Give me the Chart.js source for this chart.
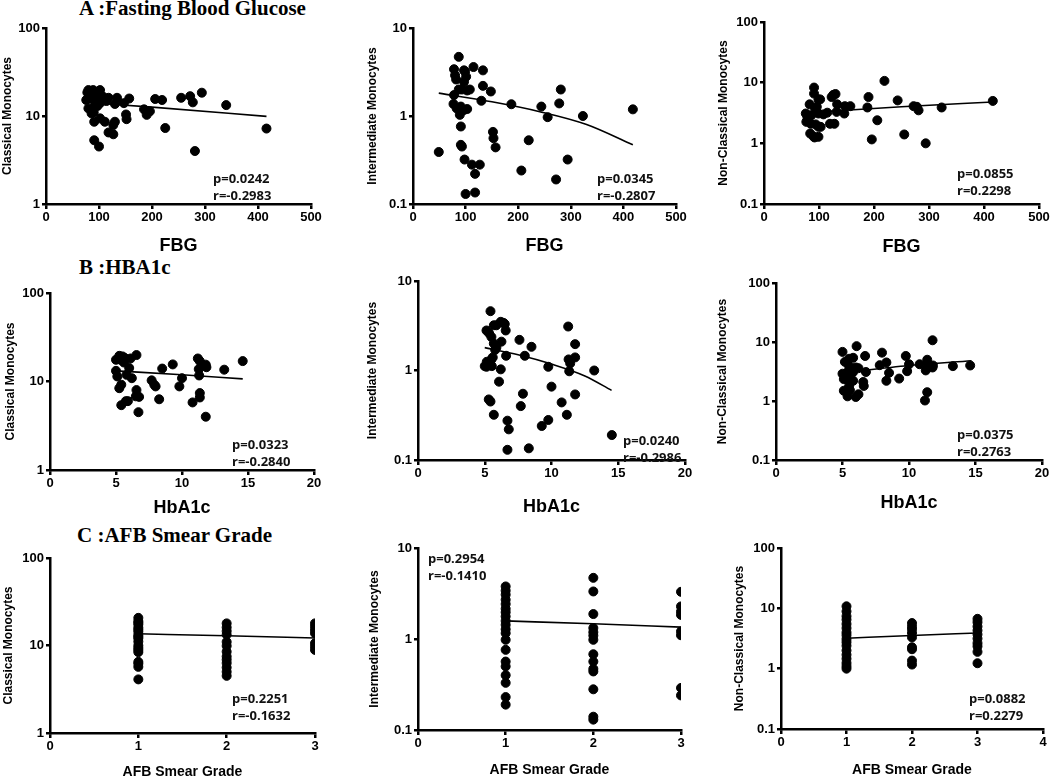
<!DOCTYPE html>
<html>
<head>
<meta charset="utf-8">
<script src="https://cdn.jsdelivr.net/npm/chart.js@4.4.1/dist/chart.umd.min.js"></script>
<style>
  html, body { margin: 0; padding: 0; background: #fff; overflow: hidden; }
  body { width: 1050px; height: 778px; position: relative; }
  canvas { position: absolute; }
  .section { position: absolute; font: bold 21px 'Liberation Serif', 'Times New Roman', serif; line-height: 20px; white-space: nowrap; color: #000; }
  .stat { position: absolute; font: bold 13px 'Open Sans', sans-serif; line-height: 17px; white-space: nowrap; color: #111; }
</style>
</head>
<body>
<div class="section" style="left:79px; top:-2px;">A :Fasting Blood Glucose</div>
<div class="section" style="left:79px; top:257px;">B :HBA1c</div>
<div class="section" style="left:77px; top:525px;">C :AFB Smear Grade</div>
<script>
// axis ticks
const fbgTicks = [0, 100, 200, 300, 400, 500];
const hba1cTicks = [0, 5, 10, 15, 20];
const gradeTicks3 = [0, 1, 2, 3];
const gradeTicks4 = [0, 1, 2, 3, 4];
const logTicks1to100 = [1, 10, 100];
const logTicks01to10 = [0.1, 1, 10];
const logTicks01to100 = [0.1, 1, 10, 100];

// A : FBG vs monocyte subsets  [x, y]
const fbgClassical = [[76,15.2],[80,19.7],[83,17.3],[89,19.7],[96,18.9],[102,19.7],[93,15.2],[99,16.6],[80,12.2],[86,10.7],[93,13.6],[102,14],[102,9.4],[91,8.6],[111,8.6],[91,5.3],[100,4.5],[118,16.1],[114,14.8],[134,16.1],[130,13.7],[147,14],[157,15.8],[130,8.6],[127,7.9],[118,6.5],[127,6.2],[151,10.4],[152,9.2],[185,11.9],[190,10.3],[196,11.3],[206,15.6],[219,15.2],[225,7.3],[255,16.1],[272,16.8],[277,14.3],[294,18.4],[281,4.0],[340,13.3],[416,7.2],[108,16.5],[83,16.1],[102,17.3],[86,19],[95,17.5],[78,18.5],[97,13],[90,11]];
const fbgClassicalFit = [[76,14.3],[200,12.6],[416,9.9]];

const fbgIntermediate = [[49,0.39],[87,4.7],[78,3.4],[80,2.9],[82,2.6],[97,3.3],[99,3.2],[101,2.8],[115,3.6],[133,3.3],[133,2.2],[97,2.45],[87,2.0],[93,2.0],[103,1.95],[108,2.0],[148,1.9],[78,1.73],[77,1.37],[83,1.22],[91,1.28],[97,1.17],[103,1.2],[89,1.03],[130,1.49],[187,1.36],[244,1.28],[256,0.97],[278,1.39],[281,2.0],[323,1.0],[418,1.19],[91,0.76],[91,0.47],[93,0.45],[152,0.66],[153,0.56],[157,0.44],[98,0.32],[112,0.28],[127,0.28],[118,0.22],[100,0.13],[118,0.135],[206,0.24],[220,0.53],[272,0.19],[294,0.32]];
const fbgIntermediateFit = [[49,1.82],[150,1.45],[241,1.12],[330,0.8],[418,0.47]];

const fbgNonClassical = [[91,8.3],[91,6.6],[83,4.4],[99,5.3],[102,5.3],[93,3.75],[96,4.0],[76,3.1],[79,2.7],[86,2.9],[99,3.1],[108,3.0],[77,2.26],[85,2.1],[94,2.05],[99,1.87],[84,1.45],[90,1.3],[92,1.25],[99,1.28],[103,1.87],[126,6.3],[130,6.5],[123,5.8],[133,4.4],[132,3.3],[115,3.2],[120,2.1],[128,2.1],[146,3.1],[147,4.1],[157,4.1],[188,3.9],[190,5.8],[219,10.7],[206,2.4],[196,1.16],[243,5.1],[255,1.4],[272,4.1],[278,4.0],[281,3.5],[294,1.0],[323,3.9],[416,5.0]];
const fbgNonClassicalFit = [[76,3.2],[250,4.0],[416,4.8]];

// B : HbA1c vs monocyte subsets
const hbaClassical = [[5.0,17.6],[5.25,19.5],[5.5,19.2],[5.67,18.4],[5.35,17.6],[5.6,16.4],[5.0,13.2],[5.1,11.4],[6.0,14.2],[6.1,18.2],[6.55,19.9],[5.8,11.9],[6.2,10.9],[5.4,9.2],[5.25,8.4],[5.75,6.0],[5.4,5.4],[5.9,6.0],[6.55,8.0],[6.5,6.8],[6.75,6.7],[6.7,4.5],[7.7,10.3],[7.9,9.2],[8.0,8.8],[8.27,6.3],[8.5,14.0],[9.3,15.6],[9.8,8.8],[10.0,10.9],[10.8,5.8],[11.2,18.2],[11.35,17],[11.27,13.8],[11.3,11.7],[11.35,7.4],[11.35,6.6],[11.8,4.0],[11.8,15.5],[11.85,14.5],[13.2,13.6],[14.6,17]];
const hbaClassicalFit = [[5.0,13.2],[10,11.9],[14.6,10.7]];

const hbaIntermediate = [[5.43,4.6],[5.13,2.8],[5.33,2.6],[5.5,2.37],[5.68,3.2],[5.87,3.2],[6.2,3.5],[6.42,3.4],[6.5,3.3],[6.57,2.8],[6.25,2.1],[5.68,2.0],[5.87,1.8],[5.78,1.7],[6.6,1.46],[5.5,1.33],[5.6,1.4],[5.15,1.25],[5.0,1.12],[5.13,1.1],[5.53,1.12],[6.2,1.03],[6.07,0.75],[5.3,0.475],[5.43,0.45],[5.68,0.32],[6.7,0.275],[6.8,0.22],[6.7,0.13],[7.6,2.2],[8.5,1.84],[8.0,1.46],[7.86,0.55],[7.7,0.4],[8.3,0.135],[9.27,0.24],[9.76,0.28],[9.76,1.1],[10.0,0.66],[10.76,0.44],[11.15,0.32],[11.25,3.1],[11.28,1.33],[11.33,0.98],[11.4,1.2],[11.77,1.4],[11.77,1.97],[11.77,0.54],[13.2,1.0],[14.52,0.19]];
const hbaIntermediateFit = [[5.0,1.8],[7.5,1.5],[10,1.18],[12.5,0.87],[14.5,0.6]];

const hbaNonClassical = [[5.0,6.8],[6.06,8.5],[6.7,5.8],[5.18,4.6],[5.5,5.2],[5.8,5.4],[5.5,3.9],[6.0,3.7],[6.2,3.6],[5.0,2.9],[5.3,3.0],[5.8,3.1],[6.76,3.1],[5.1,2.35],[5.43,2.4],[5.8,2.2],[6.56,2.1],[5.5,1.79],[6.6,1.8],[5.1,1.49],[5.56,1.52],[5.38,1.2],[6.0,1.17],[6.2,1.3],[7.8,4.05],[7.97,6.6],[8.3,4.5],[8.3,2.2],[8.5,3.0],[9.26,2.4],[9.76,5.8],[9.86,3.2],[10.0,4.2],[10.8,4.2],[11.2,1.02],[11.37,1.41],[11.37,5.0],[11.37,4.3],[11.26,3.3],[11.77,10.7],[11.8,4.0],[11.77,3.7],[13.3,3.9],[14.6,4.0]];
const hbaNonClassicalFit = [[5.0,3.0],[10,4.0],[14.7,4.8]];

// C : AFB smear grade vs monocyte subsets
const afbClassical = [[1,20.7],[1,19.0],[1,17.4],[1,16.0],[1,14.4],[1,13.2],[1,12.1],[1,11.1],[1,10.0],[1,8.9],[1,8.4],[1,6.5],[1,6.2],[1,5.7],[1,4.1],[1,18.2],[1,15.2],[1,12.6],[1,9.4],
  [2,17.9],[2,16.1],[2,14.6],[2,13.3],[2,11.0],[2,9.9],[2,8.5],[2,7.5],[2,6.9],[2,6.3],[2,5.6],[2,5.0],[2,4.5],
  [3,17.9],[3,16.4],[3,15.0],[3,13.8],[3,10.6],[3,9.7],[3,8.9]];
const afbClassicalFit = [[1,13.6],[2,12.9],[3,12.2]];

const afbIntermediate = [[1,3.78],[1,3.4],[1,3.07],[1,2.7],[1,2.42],[1,2.15],[1,1.97],[1,1.77],[1,1.58],[1,1.43],[1,1.28],[1,1.16],[1,0.98],[1,0.76],[1,0.565],[1,0.5],[1,0.4],[1,0.33],[1,0.23],[1,0.19],
  [2,4.7],[2,3.33],[2,1.88],[2,1.32],[2,1.19],[2,1.09],[2,0.98],[2,0.68],[2,0.565],[2,0.47],[2,0.44],[2,0.28],[2,0.14],[2,0.13],
  [3,3.3],[3,2.28],[3,2.0],[3,1.84],[3,1.21],[3,1.1],[3,0.29],[3,0.24]];
const afbIntermediateFit = [[1,1.58],[2,1.47],[3,1.35]];

const afbNonClassical = [[1,10.8],[1,8.9],[1,7.4],[1,6.5],[1,5.5],[1,4.7],[1,4.0],[1,3.6],[1,3.1],[1,2.75],[1,2.4],[1,2.0],[1,1.7],[1,1.46],[1,1.24],[1,1.1],[1,1.0],
  [2,5.7],[2,5.0],[2,4.5],[2,3.9],[2,3.3],[2,2.26],[2,2.1],[2,1.36],[2,1.17],
  [3,6.7],[3,5.9],[3,5.0],[3,4.3],[3,3.7],[3,3.15],[3,2.65],[3,2.35],[3,1.9],[3,1.23]];
const afbNonClassicalFit = [[1,3.2],[2,3.55],[3,3.9]];

const statTexts = [
  ['p=0.0242', 'r=-0.2983'], ['p=0.0345', 'r=-0.2807'], ['p=0.0855', 'r=0.2298'],
  ['p=0.0323', 'r=-0.2840'], ['p=0.0240', 'r=-0.2986'], ['p=0.0375', 'r=0.2763'],
  ['p=0.2251', 'r=-0.1632'], ['p=0.2954', 'r=-0.1410'], ['p=0.0882', 'r=0.2279']
];

// panel layout (pixel boxes of the axes)
const panels = [
  { pts: fbgClassical, fit: fbgClassicalFit, xTicks: fbgTicks, yTicks: logTicks1to100, xTitle: 'FBG', yTitle: 'Classical Monocytes',
    left: 46, right: 311, top: 28, bottom: 204, ytx: 7, xty: 246, xFont: 18, stat: [213, 170] },
  { pts: fbgIntermediate, fit: fbgIntermediateFit, xTicks: fbgTicks, yTicks: logTicks01to10, xTitle: 'FBG', yTitle: 'Intermediate Monocytes',
    left: 413, right: 676, top: 28, bottom: 204, ytx: 372, xty: 246, xFont: 18, stat: [597, 170] },
  { pts: fbgNonClassical, fit: fbgNonClassicalFit, xTicks: fbgTicks, yTicks: logTicks01to100, xTitle: 'FBG', yTitle: 'Non-Classical Monocytes',
    left: 764, right: 1039, top: 22, bottom: 204, ytx: 723, xty: 247, xFont: 18, stat: [957, 165] },
  { pts: hbaClassical, fit: hbaClassicalFit, xTicks: hba1cTicks, yTicks: logTicks1to100, xTitle: 'HbA1c', yTitle: 'Classical Monocytes',
    left: 50, right: 314, top: 293, bottom: 470, ytx: 10, xty: 508, xFont: 18, stat: [232, 436] },
  { pts: hbaIntermediate, fit: hbaIntermediateFit, xTicks: hba1cTicks, yTicks: logTicks01to10, xTitle: 'HbA1c', yTitle: 'Intermediate Monocytes',
    left: 418, right: 685, top: 281, bottom: 460, ytx: 372, xty: 507, xFont: 18, stat: [623, 432] },
  { pts: hbaNonClassical, fit: hbaNonClassicalFit, xTicks: hba1cTicks, yTicks: logTicks01to100, xTitle: 'HbA1c', yTitle: 'Non-Classical Monocytes',
    left: 776, right: 1042, top: 283, bottom: 460, ytx: 722, xty: 503, xFont: 18, stat: [957, 426] },
  { pts: afbClassical, fit: afbClassicalFit, xTicks: gradeTicks3, yTicks: logTicks1to100, xTitle: 'AFB Smear Grade', yTitle: 'Classical Monocytes',
    left: 50, right: 315, top: 558, bottom: 733, ytx: 8, xty: 773, xFont: 14, stat: [232, 690] },
  { pts: afbIntermediate, fit: afbIntermediateFit, xTicks: gradeTicks3, yTicks: logTicks01to10, xTitle: 'AFB Smear Grade', yTitle: 'Intermediate Monocytes',
    left: 418, right: 681, top: 548, bottom: 730, ytx: 374, xty: 771, xFont: 14, stat: [428, 550] },
  { pts: afbNonClassical, fit: afbNonClassicalFit, xTicks: gradeTicks4, yTicks: logTicks01to100, xTitle: 'AFB Smear Grade', yTitle: 'Non-Classical Monocytes',
    left: 781, right: 1043, top: 548, bottom: 729, ytx: 739, xty: 771, xFont: 14, stat: [969, 690] }
];

const tickFont = { family: "'Liberation Sans', Arial, sans-serif", size: 13, weight: 'bold' };

function makePanel(p, i) {
  const T = 10, R = 24;
  const cx = Math.round(p.ytx - 7);
  const cy = p.top - T;
  const cw = p.right + R - cx;
  const ch = Math.round(p.xty + p.xFont * 0.6) - cy;

  const canvas = document.createElement('canvas');
  canvas.width = cw;
  canvas.height = ch;
  canvas.style.left = cx + 'px';
  canvas.style.top = cy + 'px';
  canvas.style.width = cw + 'px';
  canvas.style.height = ch + 'px';
  document.body.appendChild(canvas);

  new Chart(canvas, {
    type: 'scatter',
    data: {
      datasets: [
        {
          data: p.pts.map(([x, y]) => ({ x, y })),
          backgroundColor: '#000',
          borderColor: '#000',
          pointRadius: 4.5,
          pointHoverRadius: 4.5
        },
        {
          type: 'line',
          data: p.fit.map(([x, y]) => ({ x, y })),
          borderColor: '#000',
          borderWidth: 1.6,
          pointRadius: 0,
          fill: false,
          cubicInterpolationMode: 'monotone'
        }
      ]
    },
    options: {
      responsive: false,
      animation: false,
      events: [],
      layout: { padding: { left: 0, top: T, right: R, bottom: 0 } },
      plugins: { legend: { display: false }, tooltip: { enabled: false } },
      scales: {
        x: {
          type: 'linear',
          min: p.xTicks[0],
          max: p.xTicks[p.xTicks.length - 1],
          afterBuildTicks: s => { s.ticks = p.xTicks.map(v => ({ value: v })); },
          afterFit: s => { s.height = cy + ch - p.bottom; },
          ticks: { color: '#000', font: tickFont, padding: 1, maxRotation: 0, callback: v => String(v) },
          grid: { drawOnChartArea: false, drawTicks: true, tickLength: 5, color: '#000', lineWidth: 2.5 },
          border: { display: true, color: '#000', width: 2.5 },
          title: {
            display: true, text: p.xTitle, color: '#000', padding: 0,
            font: { family: "'Liberation Sans', Arial, sans-serif", size: p.xFont, weight: 'bold', lineHeight: 1.2 }
          }
        },
        y: {
          type: 'logarithmic',
          min: p.yTicks[0],
          max: p.yTicks[p.yTicks.length - 1],
          afterBuildTicks: s => { s.ticks = p.yTicks.map(v => ({ value: v })); },
          afterFit: s => { s.width = p.left - cx; },
          ticks: { color: '#000', font: tickFont, padding: 2, callback: v => String(v) },
          grid: { drawOnChartArea: false, drawTicks: true, tickLength: 4, color: '#000', lineWidth: 2.5 },
          border: { display: true, color: '#000', width: 2.5 },
          title: {
            display: true, text: p.yTitle, color: '#000', padding: 0,
            font: { family: "'Liberation Sans', Arial, sans-serif", size: 12, weight: 'bold', lineHeight: 1.2 }
          }
        }
      }
    }
  });

  const stat = document.createElement('div');
  stat.className = 'stat';
  stat.style.left = p.stat[0] + 'px';
  stat.style.top = p.stat[1] + 'px';
  stat.innerHTML = statTexts[i][0] + '<br>' + statTexts[i][1];
  document.body.appendChild(stat);
}

panels.forEach(makePanel);
</script>
</body>
</html>
